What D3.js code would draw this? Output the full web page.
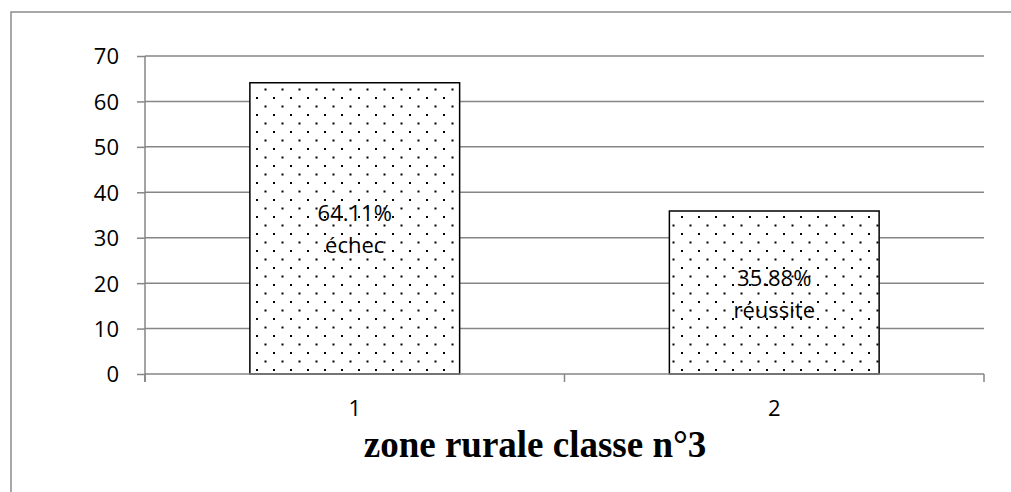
<!DOCTYPE html>
<meta charset="utf-8">
<style>
body { margin: 0; background: #fff; }
.axis text { font: 22px "Open Sans", sans-serif; fill: #000; }
.grid line { stroke: #868686; stroke-width: 1.5px; }
.barlabel { font: 22px "Open Sans", sans-serif; fill: #000; }
.title { font: bold 37px "Liberation Serif", serif; fill: #000; }
</style>
<body>
<script src="https://d3js.org/d3.v7.min.js"></script>
<svg id="chart" width="1011" height="492"></svg>
<script>

// data
var categories = ["1", "2"];
var values = [64.11, 35.88];
var labels = [["64.11%", "échec"], ["35.88%", "réussite"]];
var yTicks = [0, 10, 20, 30, 40, 50, 60, 70];

var margin = {top: 56, right: 27, bottom: 118, left: 145},
    width = 1011,
    height = 492;

var svg = d3.select("#chart");

// outer frame (left + top only visible)
svg.append("path")
    .attr("d", "M11,492V12H1011")
    .attr("fill", "none")
    .attr("stroke", "#8c8c8c")
    .attr("stroke-width", 1.5);

var defs = svg.append("defs");
var pat = defs.append("pattern")
    .attr("id", "dots")
    .attr("patternUnits", "userSpaceOnUse")
    .attr("width", 17)
    .attr("height", 17)
    .attr("x", 256)
    .attr("y", 80);
pat.append("rect").attr("width", 17).attr("height", 17).attr("fill", "#fff");
pat.append("rect").attr("x", 0).attr("y", 0).attr("width", 2).attr("height", 2).attr("fill", "#000");
pat.append("rect").attr("x", 8.5).attr("y", 8.5).attr("width", 2).attr("height", 2).attr("fill", "#000");

var x = d3.scaleBand()
    .domain(categories)
    .range([margin.left, width - margin.right])
    .paddingInner(0.5)
    .paddingOuter(0.25);

var y = d3.scaleLinear()
    .domain([0, 70])
    .range([height - margin.bottom, margin.top]);

// gridlines
svg.append("g")
    .attr("class", "grid")
    .selectAll("line")
    .data(yTicks.filter(function(d) { return d > 0; }))
    .enter().append("line")
      .attr("x1", margin.left)
      .attr("x2", width - margin.right)
      .attr("y1", function(d) { return y(d); })
      .attr("y2", function(d) { return y(d); });

// y axis
var yAxis = svg.append("g")
    .attr("class", "axis")
    .attr("transform", "translate(" + margin.left + ",0)")
    .call(d3.axisLeft(y).tickValues(yTicks).tickSize(8).tickPadding(18));
yAxis.selectAll("line, path").attr("stroke", "#868686").attr("stroke-width", 1.5);
yAxis.select(".domain").attr("d", "M0," + y(70) + "V" + (y(0) + 8));
yAxis.selectAll("text").attr("dy", "0.36em");

// bars
var bars = svg.append("g").selectAll("g")
    .data(values)
    .enter().append("g");

bars.append("rect")
    .attr("x", function(d, i) { return x(categories[i]); })
    .attr("y", function(d) { return y(d); })
    .attr("width", x.bandwidth())
    .attr("height", function(d) { return y(0) - y(d); })
    .attr("fill", "url(#dots)")
    .attr("stroke", "#000")
    .attr("stroke-width", 1.5);

bars.each(function(d, i) {
  var cx = x(categories[i]) + x.bandwidth() / 2;
  var cy = (y(d) + y(0)) / 2;
  var t = d3.select(this).append("text")
      .attr("class", "barlabel")
      .attr("text-anchor", "middle");
  t.append("tspan").attr("x", cx).attr("y", cy - 7).text(labels[i][0]);
  t.append("tspan").attr("x", cx).attr("y", cy + 25).text(labels[i][1]);
});

// x axis
var xa = svg.append("g")
    .attr("class", "axis")
    .attr("transform", "translate(0," + y(0) + ")");
xa.append("line")
    .attr("x1", margin.left).attr("x2", width - margin.right)
    .attr("stroke", "#868686").attr("stroke-width", 1.5);
xa.selectAll(".tk")
    .data(d3.range(categories.length + 1))
    .enter().append("line")
      .attr("x1", function(d) { return margin.left + d * (width - margin.left - margin.right) / categories.length; })
      .attr("x2", function(d) { return margin.left + d * (width - margin.left - margin.right) / categories.length; })
      .attr("y1", 0).attr("y2", 8)
      .attr("stroke", "#868686").attr("stroke-width", 1.5);
xa.selectAll(".lbl")
    .data(categories)
    .enter().append("text")
      .attr("x", function(d) { return x(d) + x.bandwidth() / 2; })
      .attr("y", 42)
      .attr("text-anchor", "middle")
      .text(function(d) { return d; });

// title
svg.append("text")
    .attr("class", "title")
    .attr("x", 535)
    .attr("y", 457)
    .attr("text-anchor", "middle")
    .text("zone rurale classe n°3");

</script>
</body>
